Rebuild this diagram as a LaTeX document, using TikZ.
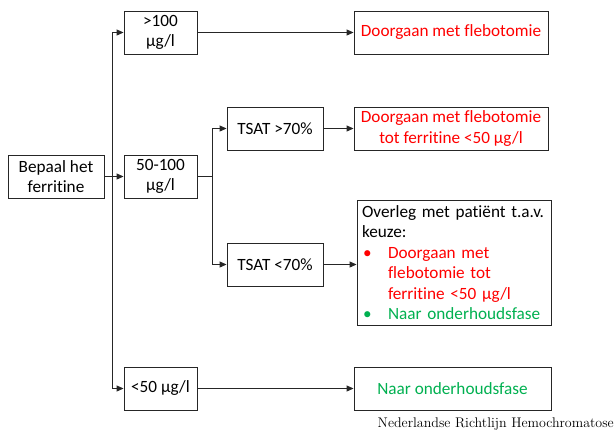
\documentclass[tikz,border=0pt]{standalone}
\usepackage{fontspec}
\setmainfont{Carlito}[Ligatures=NoCommon]
\usetikzlibrary{arrows.meta}
\definecolor{tred}{HTML}{FF0000}
\definecolor{tgreen}{HTML}{00B050}
\newcommand{\bul}[1]{\makebox[26pt][l]{\hspace*{1pt}\textcolor{#1}{•}}}
\begin{document}
\begin{tikzpicture}[x=1pt,y=-1pt,
  box/.style={draw=black!85,line width=0.9pt,inner sep=2pt,align=center,
    font=\fontsize{17.2}{20.5}\selectfont},
  conn/.style={line width=0.9pt,draw=black!85},
  arr/.style={conn,-{Triangle[length=7pt,width=6pt]}}]
\useasboundingbox (0,0) rectangle (614,432);
% first level
\node[box,minimum width=96pt,minimum height=43pt] (bep) at (56,176.5) {Bepaal het\\ferritine};
\node[box,minimum width=73pt,minimum height=43pt] (hi) at (160.5,32.5) {>100\\µg/l};
\node[box,minimum width=73pt,minimum height=43pt] (mid) at (160.5,176.5) {50-100\\µg/l};
\node[box,minimum width=73pt,minimum height=43pt] (lo) at (160.5,388.5) {<50 µg/l};
% second level
\node[box,minimum width=96pt,minimum height=43pt] (tsathi) at (275,128.5) {TSAT >70\%};
\node[box,minimum width=96pt,minimum height=43pt] (tsatlo) at (275,264.5) {TSAT <70\%};
% outcomes
\node[box,minimum width=194pt,minimum height=43pt,text=tred] (out1) at (451,32.5) {Doorgaan met flebotomie};
\node[box,minimum width=194pt,minimum height=43pt,text=tred] (out2) at (451,128.5) {Doorgaan met flebotomie\\tot ferritine <50 µg/l};
\node[box,minimum width=194pt,minimum height=125pt,text width=184pt,align=left,inner sep=5pt] (out3) at (454,262.5)
  {Overleg met patiënt t.a.v.\\keuze:\\
   \bul{tred}\textcolor{tred}{Doorgaan met}\\
   \hspace*{26pt}\textcolor{tred}{flebotomie tot}\\
   \hspace*{26pt}\textcolor{tred}{ferritine <50 µg/l}\\
   \bul{tgreen}\textcolor{tgreen}{Naar onderhoudsfase}};
\node[box,minimum width=197pt,minimum height=43pt,text=tgreen] (out4) at (452.5,388.5) {Naar onderhoudsfase};
% junctions
\coordinate (j1) at (112,176.5);
\coordinate (j2) at (212,176.5);
% connectors
\draw[arr] (bep) -- (mid);
\draw[arr] (j1) |- (hi.west);
\draw[arr] (j1) |- (lo.west);
\draw[conn] (mid.east) -- (j2);
\draw[arr] (j2) |- (tsathi.west);
\draw[arr] (j2) |- (tsatlo.west);
\draw[arr] (hi) -- (out1);
\draw[arr] (tsathi) -- (out2);
\draw[arr] (tsatlo.east) -- (out3.west |- tsatlo.east);
\draw[arr] (lo) -- (out4);
% source line
\node[anchor=south east,inner sep=0pt,font={\fontsize{14}{16}\selectfont}] (src) at (614,431)
  {\fontspec{Latin Modern Roman}Nederlandse Richtlijn Hemochromatose};
\end{tikzpicture}
\end{document}
